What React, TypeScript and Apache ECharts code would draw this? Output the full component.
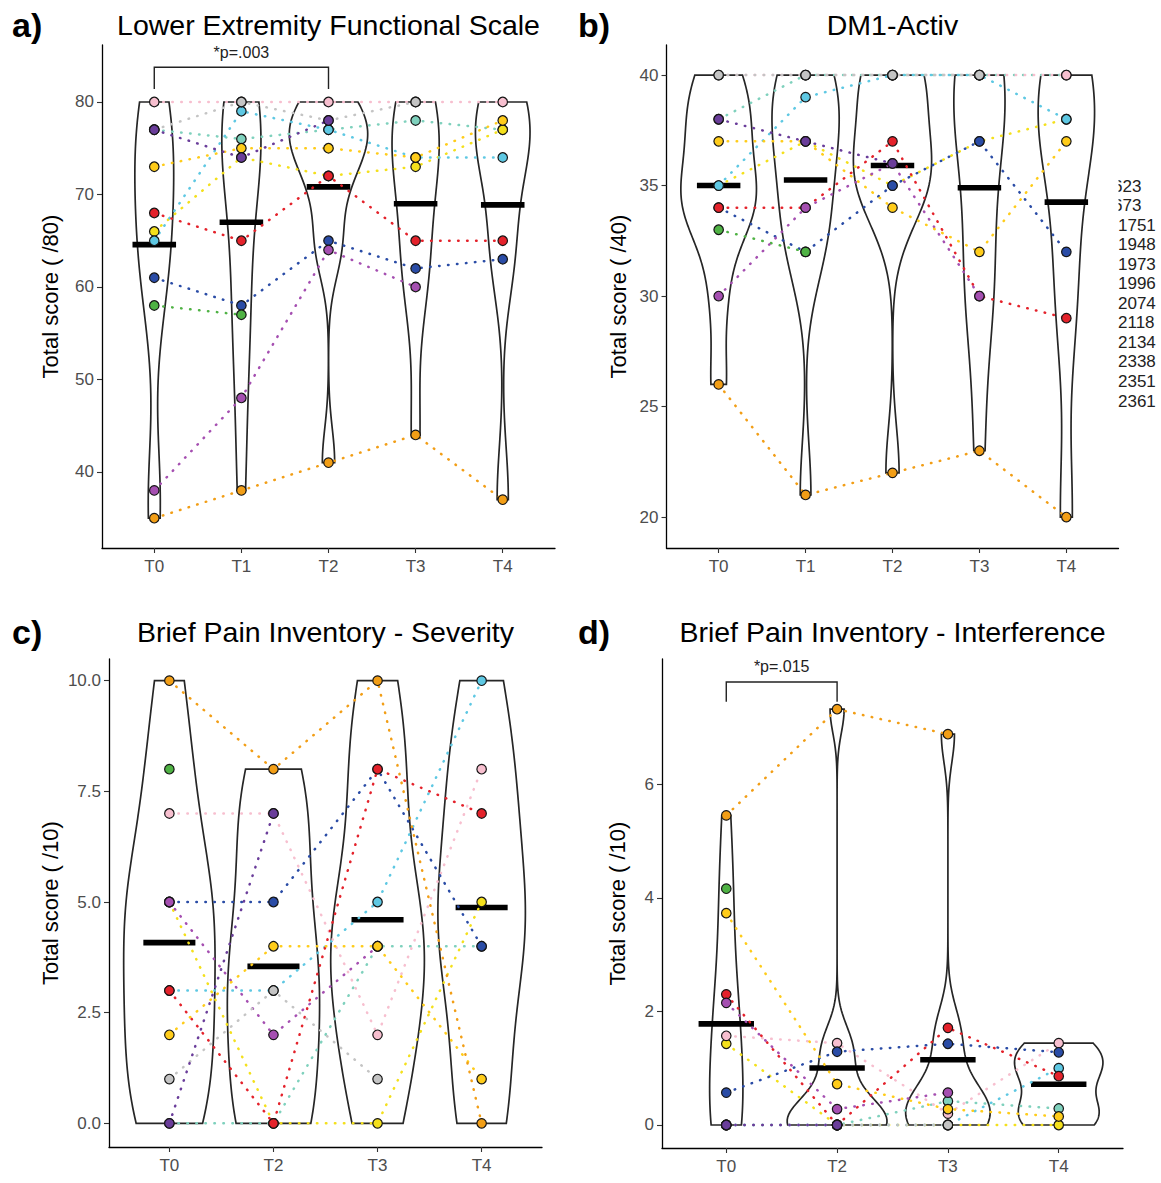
import React, { useEffect, useRef } from 'react';
import * as echarts from 'echarts';

// ---------- data ----------
const timesFive = ['T0', 'T1', 'T2', 'T3', 'T4'];
const timesFour = ['T0', 'T2', 'T3', 'T4'];

// drawing order of participants (later ones are drawn on top)
const patientKeys = ['teal', 'yellow2', 'cyan', 'pink', 'blue', 'green', 'red', 'magenta', 'yellow1', 'grey', 'purple', 'orange'];
const patientColors = ['#7fd1bd', '#f4e01c', '#5ec8e3', '#f7bfcf', '#2a4ca6', '#4fb244', '#e4222b', '#a54fb1', '#ffcc1a', '#c4c4c4', '#6a3d9a', '#f29e16'];

const legendIds = ['623', '673', '1751', '1948', '1973', '1996', '2074', '2118', '2134', '2338', '2351', '2361'];

// rows follow patientKeys, columns follow the time points
const lefsScores: (number | null)[][] = [
  [77, 76, 77, 78, 77],
  [66, 74, 72, 73, 77],
  [65, 79, 77, 74, 74],
  [80, 80, 80, 80, 80],
  [61, 58, 65, 62, 63],
  [58, 57, null, null, null],
  [68, 65, 72, 65, 65],
  [38, 48, 64, 60, null],
  [73, 75, 75, 74, 78],
  [77, 80, 78, 80, null],
  [77, 74, 78, null, null],
  [35, 38, 41, 44, 37],
];

const dm1Scores: (number | null)[][] = [
  [38, 40, 40, 40, 40],
  [35, 37, 35, 37, 38],
  [35, 39, 40, 40, 38],
  [40, 40, 40, 40, 40],
  [34, 32, 35, 37, 32],
  [33, 32, null, null, null],
  [34, 34, 37, 30, 29],
  [30, 34, 36, 30, null],
  [37, 37, 34, 32, 37],
  [40, 40, 40, 40, null],
  [38, 37, 36, null, null],
  [26, 21, 22, 23, 20],
];

const bpiSeverityScores: (number | null)[][] = [
  [0, 0, 4, 4],
  [5, 0, 0, 5],
  [3, 3, 5, 10],
  [7, 7, 2, 8],
  [5, 5, 8, 4],
  [8, null, null, null],
  [3, 0, 8, 7],
  [5, 2, 4, null],
  [2, 4, 4, 1],
  [1, 3, 1, null],
  [0, 7, null, null],
  [10, 8, 10, 0],
];

const bpiInterferenceScores: (number | null)[][] = [
  [0, 0, 0.42, 0.29],
  [1.43, 0, 0, 0],
  [0, 0, 0, 1.0],
  [1.57, 1.44, 0.2, 1.44],
  [0.57, 1.29, 1.43, 1.28],
  [4.16, null, null, null],
  [2.3, 0, 1.71, 0.86],
  [2.15, 0.28, 0.57, null],
  [3.73, 0.72, 0.28, 0.15],
  [0, 0, 0, null],
  [0, 0, null, null],
  [5.45, 7.32, 6.88, null],
];

const lefsTicks = [40, 50, 60, 70, 80];
const dm1Ticks = [20, 25, 30, 35, 40];
const bpiSeverityTicks = [0, 2.5, 5, 7.5, 10];
const bpiInterferenceTicks = [0, 2, 4, 6];

// ---------- helpers ----------
const FONT = 'Liberation Sans, Arial, Helvetica, sans-serif';

function quantile7(sorted: number[], p: number) {
  const h = (sorted.length - 1) * p;
  const lo = Math.floor(h);
  const hi = Math.ceil(h);
  return sorted[lo] + (h - lo) * (sorted[hi] - sorted[lo]);
}

function bwNrd0(xs: number[]) {
  const n = xs.length;
  const m = xs.reduce((a, b) => a + b, 0) / n;
  const sd = Math.sqrt(xs.reduce((a, b) => a + (b - m) * (b - m), 0) / (n - 1));
  const s = [...xs].sort((a, b) => a - b);
  const iqr = quantile7(s, 0.75) - quantile7(s, 0.25);
  let lo = Math.min(sd, iqr / 1.34);
  if (!lo) lo = sd || Math.abs(xs[0]) || 1;
  return 0.9 * lo * Math.pow(n, -0.2);
}

function densityProfile(xs: number[], steps = 160): [number, number][] {
  const bw = bwNrd0(xs);
  const mn = Math.min(...xs);
  const mx = Math.max(...xs);
  const n = xs.length;
  const out: [number, number][] = [];
  for (let k = 0; k <= steps; k++) {
    const y = mn + ((mx - mn) * k) / steps;
    let d = 0;
    for (const x of xs) {
      const u = (y - x) / bw;
      d += Math.exp(-0.5 * u * u);
    }
    out.push([y, d / (n * bw * Math.sqrt(2 * Math.PI))]);
  }
  return out;
}

function columnValues(scores: (number | null)[][], i: number) {
  return scores.map((r) => r[i]).filter((v) => v !== null && v !== undefined) as number[];
}

type Panel = {
  scores: (number | null)[][];
  times: string[];
  ticks: number[];
  fmt: (v: number) => string;
  grid: { left: number; top: number; width: number; height: number };
  xRange: [number, number];
  yRange: [number, number];
  yName: string;
  nameGap: number;
  title: string;
  letter: string;
  bracket?: { from: number; to: number; top: number; leg: number; textY: number; label: string };
};

const panels: Panel[] = [
  {
    scores: lefsScores, times: timesFive, ticks: lefsTicks, fmt: (v) => String(v),
    grid: { left: 102, top: 45, width: 453, height: 503 }, xRange: [-0.6, 4.6], yRange: [31.78, 86.16],
    yName: 'Total score ( /80)', nameGap: 41, title: 'Lower Extremity Functional Scale', letter: 'a)',
    bracket: { from: 0, to: 2, top: 83.75, leg: 81.4, textY: 85.3, label: '*p=.003' },
  },
  {
    scores: dm1Scores, times: timesFive, ticks: dm1Ticks, fmt: (v) => String(v),
    grid: { left: 666.5, top: 45, width: 452, height: 503 }, xRange: [-0.6, 4.6], yRange: [18.6, 41.36],
    yName: 'Total score ( /40)', nameGap: 37, title: 'DM1-Activ', letter: 'b)',
  },
  {
    scores: bpiSeverityScores, times: timesFour, ticks: bpiSeverityTicks, fmt: (v) => v.toFixed(1),
    grid: { left: 109, top: 659, width: 433, height: 488 }, xRange: [-0.58, 3.58], yRange: [-0.535, 10.49],
    yName: 'Total score ( /10)', nameGap: 48, title: 'Brief Pain Inventory - Severity', letter: 'c)',
  },
  {
    scores: bpiInterferenceScores, times: timesFour, ticks: bpiInterferenceTicks, fmt: (v) => String(v),
    grid: { left: 662, top: 659, width: 461, height: 489 }, xRange: [-0.58, 3.58], yRange: [-0.405, 8.204],
    yName: 'Total score ( /10)', nameGap: 34, title: 'Brief Pain Inventory - Interference', letter: 'd)',
    bracket: { from: 0, to: 1, top: 7.8, leg: 7.45, textY: 8.08, label: '*p=.015' },
  },
];

function buildOption() {
  const grids: any[] = [];
  const xAxes: any[] = [];
  const yAxes: any[] = [];
  const series: any[] = [];
  const graphics: any[] = [];

  panels.forEach((p, pi) => {
    grids.push({ ...p.grid, containLabel: false });
    const idx = p.times.map((_, i) => i);
    xAxes.push({
      type: 'value', gridIndex: pi, min: p.xRange[0], max: p.xRange[1],
      splitLine: { show: false },
      axisLine: { show: true, onZero: false, lineStyle: { color: '#000', width: 1.3 } },
      axisTick: { show: true, customValues: idx, length: 5, lineStyle: { color: '#333', width: 1.1 } },
      axisLabel: { show: true, customValues: idx, formatter: (v: number) => p.times[Math.round(v)] ?? '', color: '#4d4d4d', fontSize: 17, fontFamily: FONT, margin: 10 },
    });
    yAxes.push({
      type: 'value', gridIndex: pi, min: p.yRange[0], max: p.yRange[1],
      splitLine: { show: false },
      axisLine: { show: true, onZero: false, lineStyle: { color: '#000', width: 1.3 } },
      axisTick: { show: true, customValues: p.ticks, length: 5, lineStyle: { color: '#333', width: 1.1 } },
      axisLabel: { show: true, customValues: p.ticks, formatter: (v: number) => p.fmt(v), color: '#4d4d4d', fontSize: 17, fontFamily: FONT, margin: 8 },
      name: p.yName, nameLocation: 'middle', nameRotate: 90, nameGap: p.nameGap,
      nameTextStyle: { fontSize: 22, color: '#000', fontFamily: FONT },
    });

    // violins (kernel density, area scaled across the panel)
    const profiles = p.times.map((_, i) => densityProfile(columnValues(p.scores, i)));
    const maxD = Math.max(...profiles.map((pr) => Math.max(...pr.map((q) => q[1]))));
    const means = p.times.map((_, i) => {
      const v = columnValues(p.scores, i);
      return v.reduce((a, b) => a + b, 0) / v.length;
    });

    series.push({
      type: 'custom', xAxisIndex: pi, yAxisIndex: pi, z: 1, silent: true, clip: false,
      data: means.map((m, i) => [i, m]),
      renderItem: (params: any, api: any) => {
        const i = api.value(0);
        const prof = profiles[i];
        const left = prof.map(([y, d]) => api.coord([i - (0.45 * d) / maxD, y]));
        const right = prof.slice().reverse().map(([y, d]) => api.coord([i + (0.45 * d) / maxD, y]));
        return {
          type: 'polygon',
          shape: { points: [...left, ...right] },
          style: { fill: '#ffffff', stroke: '#262626', lineWidth: 1.7 },
        };
      },
    });

    // mean bars
    series.push({
      type: 'custom', xAxisIndex: pi, yAxisIndex: pi, z: 2, silent: true, clip: false,
      data: means.map((m, i) => [i, m]),
      renderItem: (params: any, api: any) => {
        const i = api.value(0);
        const m = api.value(1);
        const a = api.coord([i - 0.25, m]);
        const b = api.coord([i + 0.25, m]);
        return { type: 'rect', shape: { x: a[0], y: a[1] - 2.8, width: b[0] - a[0], height: 5.6 }, style: { fill: '#000' } };
      },
    });

    // dotted trajectories
    p.scores.forEach((row, k) => {
      let seg: number[][] = [];
      const segs: number[][][] = [];
      row.forEach((v, i) => {
        if (v === null || v === undefined) {
          if (seg.length) segs.push(seg);
          seg = [];
        } else seg.push([i, v]);
      });
      if (seg.length) segs.push(seg);
      segs.forEach((s) => {
        if (s.length < 2) return;
        series.push({
          type: 'line', xAxisIndex: pi, yAxisIndex: pi, z: 3, silent: true,
          data: s, symbol: 'none', showSymbol: false,
          lineStyle: { color: patientColors[k], width: 2.5, type: [0.5, 8.5], cap: 'round' },
        });
      });
    });

    // points
    const pts: any[] = [];
    p.scores.forEach((row, k) => {
      row.forEach((v, i) => {
        if (v === null || v === undefined) return;
        pts.push({ value: [i, v], itemStyle: { color: patientColors[k] } });
      });
    });
    series.push({
      type: 'scatter', xAxisIndex: pi, yAxisIndex: pi, z: 4, silent: true,
      symbol: 'circle', symbolSize: 9.5, data: pts,
      itemStyle: { borderColor: '#151515', borderWidth: 1.2, opacity: 1 },
    });

    // significance bracket
    if (p.bracket) {
      const br = p.bracket;
      series.push({
        type: 'custom', xAxisIndex: pi, yAxisIndex: pi, z: 5, silent: true, clip: false,
        data: [[br.from, br.top]],
        renderItem: (params: any, api: any) => {
          const a = api.coord([br.from, br.leg]);
          const b = api.coord([br.from, br.top]);
          const c = api.coord([br.to, br.top]);
          const d = api.coord([br.to, br.leg]);
          const t = api.coord([(br.from + br.to) / 2, br.textY]);
          return {
            type: 'group',
            children: [
              { type: 'polyline', shape: { points: [a, b, c, d] }, style: { stroke: '#222', lineWidth: 1.4, fill: null } },
              {
                type: 'text', x: t[0], y: t[1],
                style: { text: br.label, fill: '#222', font: `16px ${FONT}`, align: 'center', verticalAlign: 'middle', textAlign: 'center', textVerticalAlign: 'middle' },
              },
            ],
          };
        },
      });
    }

    // titles and panel letters
    const titleY = pi < 2 ? 25 : 632;
    const letterX = pi % 2 === 0 ? 12 : 578;
    graphics.push({
      type: 'text', x: letterX, y: titleY,
      style: { text: p.letter, fill: '#000', font: `bold 34px ${FONT}`, align: 'left', verticalAlign: 'middle', textAlign: 'left', textVerticalAlign: 'middle' },
    });
    graphics.push({
      type: 'text', x: p.grid.left + p.grid.width / 2, y: titleY,
      style: { text: p.title, fill: '#000', font: `28.5px ${FONT}`, align: 'center', verticalAlign: 'middle', textAlign: 'center', textVerticalAlign: 'middle' },
    });
  });

  // legend labels (partly cut off at the left as in the figure)
  legendIds.forEach((id, i) => {
    graphics.push({
      type: 'text', x: id.length === 3 ? 1113 : 1118, y: 186 + i * 19.55,
      style: { text: id, fill: '#222', font: `17px ${FONT}`, align: 'left', verticalAlign: 'middle', textAlign: 'left', textVerticalAlign: 'middle' },
    });
  });
  graphics.push({ type: 'rect', shape: { x: 1106, y: 174, width: 12.5, height: 44 }, style: { fill: '#ffffff' } });

  return {
    animation: false,
    backgroundColor: '#ffffff',
    grid: grids,
    xAxis: xAxes,
    yAxis: yAxes,
    series,
    graphic: graphics,
  };
}

export default function App() {
  const ref = useRef<HTMLDivElement>(null);
  useEffect(() => {
    if (!ref.current) return;
    const chart = echarts.init(ref.current, undefined, { renderer: 'svg' });
    chart.setOption(buildOption() as any);
    return () => chart.dispose();
  }, []);
  return <div ref={ref} style={{ position: 'absolute', left: 0, top: 0, width: 1161, height: 1183, background: '#fff' }} />;
}
